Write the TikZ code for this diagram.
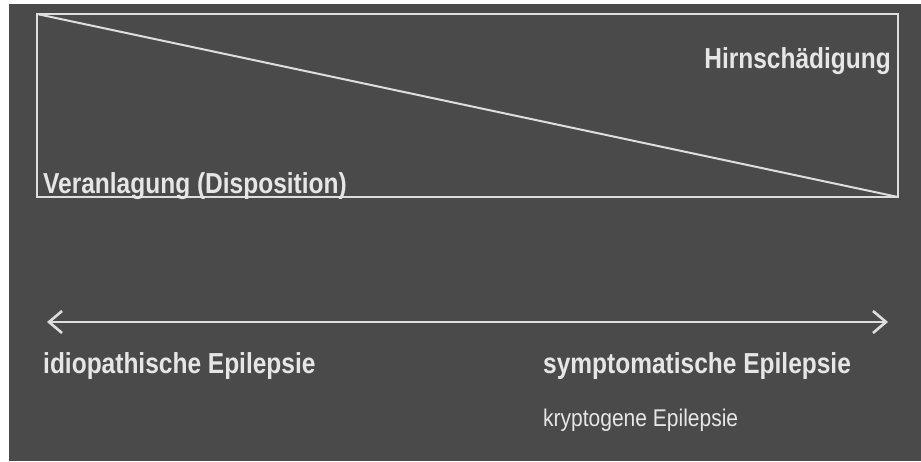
\documentclass[tikz,border=0pt]{standalone}
\usepackage{fontspec}
\setmainfont{Liberation Sans}
\usetikzlibrary{arrows.meta}
\definecolor{bg}{HTML}{4A4A4A}
\definecolor{fg}{HTML}{E6E6E6}
\definecolor{ln}{HTML}{DEDEDE}
\begin{document}
\begin{tikzpicture}[x=1pt,y=-1pt,
  lbl/.style={text=fg,inner sep=0pt,anchor=base west,font=\bfseries\fontsize{24.5}{28}\selectfont,yscale=1.18},
  small/.style={text=fg,inner sep=0pt,anchor=base west,font=\fontsize{21}{24}\selectfont,yscale=1.15},
  ln/.style={draw=ln,line width=2pt}]
\useasboundingbox (0,0) rectangle (921,461);
\fill[white] (0,0) rectangle (921,461);
\fill[bg] (9,4) rectangle (921,461);
\coordinate (tl) at (37,14);
\coordinate (br) at (898,197);
\draw[ln] (tl) rectangle (br);
\draw[ln] (tl) -- (br);
\node[lbl,anchor=base east] (hirn) at (891,68) {Hirnschädigung};
\node[lbl] (veran) at (43,193) {Veranlagung (Disposition)};
\coordinate (al) at (47,322);
\coordinate (ar) at (888,322);
\draw[ln,line width=2.2pt,{Straight Barb[length=13pt,width=22pt,line width=2.6pt]}-{Straight Barb[length=13pt,width=22pt,line width=2.6pt]}] (al) -- (ar);
\node[lbl] (idio) at (43,373) {idiopathische Epilepsie};
\node[lbl] (symp) at (543,373) {symptomatische Epilepsie};
\node[small] (kryp) at (543,426) {kryptogene Epilepsie};
\end{tikzpicture}
\end{document}
